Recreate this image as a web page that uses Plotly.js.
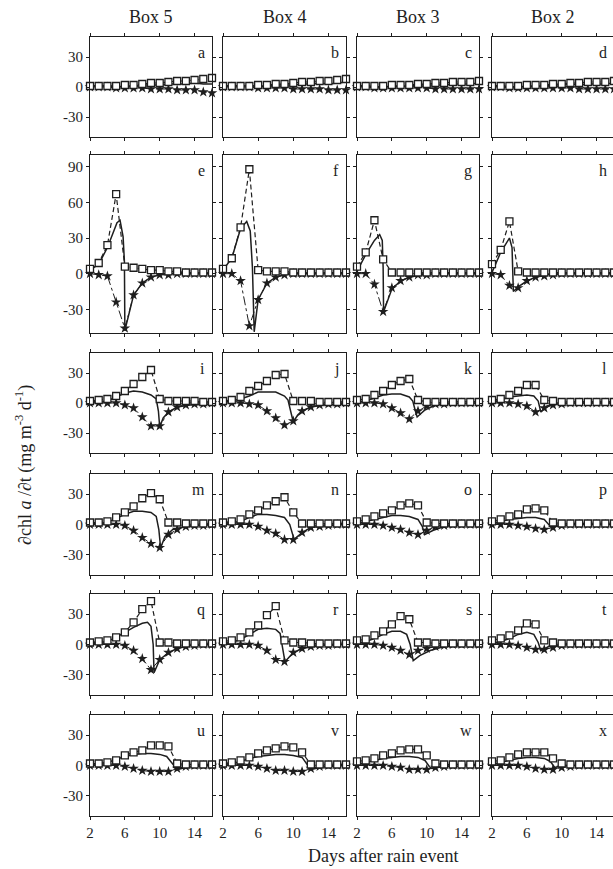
<!DOCTYPE html>
<html><head><meta charset="utf-8">
<script src="https://cdn.plot.ly/plotly-3.0.1.min.js"></script>
<style>html,body{margin:0;padding:0;overflow:hidden;background:#fff}#chart{width:616px;height:869px}</style>
</head><body><div id="chart"></div>
<script>
// ---------------- data ----------------
const days = [2,3,4,5,6,7,8,9,10,11,12,13,14,15,16];
const columnTitles = ['Box 5','Box 4','Box 3','Box 2'];
const panelLetters = ['a','b','c','d','e','f','g','h','i','j','k','l','m','n','o','p','q','r','s','t','u','v','w','x'];
const xTickVals = [2,6,10,14];
const yTicksSmall = [-30,0,30];
const yTicksLarge = [-30,0,30,60,90];

// squares (dashed), stars (dash-dot), solid line (x, y)
const sqA = [1,1,1,1,2,2,3,4,4,5,6,6,7,8,9];
const stA = [0,0,0,-1,-1,-1,-1,-2,-2,-2,-3,-3,-3,-5,-6];
const lxA = days, lyA = [1,1,1,0,1,1,2,2,2,3,3,3,4,3,3];
const sqB = [1,1,1,1,2,2,3,3,4,5,5,6,6,7,8];
const stB = [0,0,0,0,-1,-1,-1,-1,-2,-2,-2,-2,-3,-3,-3];
const lxB = days, lyB = [1,1,1,1,1,1,2,2,2,3,3,4,3,4,5];
const sqC = [1,1,1,1,2,2,2,3,3,4,4,5,5,5,6];
const stC = [0,0,-1,-1,-1,-1,-1,-1,-1,-2,-2,-2,-2,-2,-2];
const lxC = days, lyC = [1,1,0,0,1,1,1,2,2,2,2,3,3,3,4];
const sqD = [1,1,1,1,2,2,2,3,3,4,4,5,5,5,6];
const stD = [0,0,-1,-1,-1,-1,-1,-1,-1,-1,-2,-2,-2,-2,-2];
const lxD = days, lyD = [1,1,0,0,1,1,1,2,2,3,2,3,3,3,4];

const sqE = [4,9,24,67,6,5,4,3,3,2,2,1,1,1,1];
const stE = [0,-1,-2,-24,-46,-18,-8,-3,-1,-1,0,0,0,0,0];
const lxE = [2,3,4,4.6,5.1,5.45,5.8,5.95,6.0,7,8,9,10,11,16];
const lyE = [3,8,22,33,43,45,31,10,-48,-18,-8,-3,-1,0,0];
const sqF = [4,13,39,88,3,2,2,2,1,1,1,1,1,1,1];
const stF = [0,0,-6,-44,-22,-8,-3,-1,0,0,0,0,0,0,0];
const lxF = [2,3,4,4.7,5.1,5.35,5.55,6,7,8,9,10,16];
const lyF = [3,13,38,44,36,5,-49,-22,-8,-3,-1,0,0];
const sqG = [6,18,45,12,1,1,1,1,1,1,1,1,1,1,1];
const stG = [0,0,-9,-32,-12,-6,-3,-1,-1,0,0,0,0,0,0];
const lxG = [2,3,4,4.6,4.9,5.0,5.05,6,7,8,9.5,11,16];
const lyG = [2,16,28,33,28,5,-32,-13,-6,-3,-1,0,0];
const sqH = [8,20,44,2,1,1,1,1,1,1,1,1,1,1,1];
const stH = [0,-1,-10,-12,-6,-3,-2,-1,0,0,0,0,0,0,0];
const lxH = [2,3,4,4.3,4.45,5,6,7,8,10,16];
const lyH = [1,18,30,22,-15,-11,-6,-3,-1,0,0];

const sqI = [2,3,4,7,12,19,26,33,4,2,2,2,2,1,1];
const stI = [0,0,0,0,-2,-5,-14,-23,-23,-9,-4,-2,-1,-1,0];
const lxI = [2,3,4,5,6,7,8,9,9.6,9.85,10,10.4,11,12,13.5,16];
const lyI = [1,1,2,6,10,12,11,8,4,-8,-24,-15,-9,-4,-2,-1];
const sqJ = [2,3,6,12,17,22,28,29,2,2,2,1,1,1,1];
const stJ = [0,0,0,-1,-2,-8,-15,-22,-18,-8,-4,-2,-1,-1,0];
const lxJ = [2,3,4,5,6,7,8,9,9.4,9.75,10,10.5,11,12,13.5,16];
const lyJ = [1,2,4,7,11,11,11,7,3,-10,-19,-12,-8,-4,-2,-1];
const sqK = [3,4,8,12,18,22,24,3,1,1,1,1,1,1,1];
const stK = [0,0,0,-1,-5,-10,-16,-8,-3,-1,-1,0,0,0,0];
const lxK = [2,3,4,5,6,7,8,8.4,8.7,8.9,9.8,11,12,16];
const lyK = [1,2,5,8,9,9,6,2,-8,-14,-7,-2,-1,0];
const sqL = [3,4,8,12,18,18,3,2,1,1,1,1,1,1,1];
const stL = [0,0,0,-1,-3,-9,-5,-2,-1,0,0,0,0,0,0];
const lxL = [2,3,4,5,6,6.8,7.3,7.6,8.3,9.5,11,16];
const lyL = [1,3,6,7,8,7,2,-9,-3,-1,0,0];

const sqM = [2,2,3,7,12,18,26,31,25,2,2,1,1,1,1];
const stM = [0,0,0,0,-1,-6,-13,-19,-23,-10,-5,-2,-1,-1,0];
const lxM = [2,3,4,5,6,7,8,9,9.6,9.9,10.1,10.6,11.5,13,16];
const lyM = [1,1,2,6,10,13,13,12,8,-5,-23,-12,-5,-2,0];
const sqN = [2,3,5,10,14,19,23,27,12,1,1,1,1,1,1];
const stN = [0,0,0,0,-2,-6,-9,-15,-15,-8,-3,-2,-1,0,0];
const lxN = [2,3,4,5,6,7,8,9,9.6,10.1,11,12,13,14,16];
const lyN = [1,2,3,7,10,10,9,7,0,-15,-8,-3,-2,-1,0];
const sqO = [3,5,8,11,14,19,21,19,2,1,1,1,1,1,1];
const stO = [0,0,0,-1,-3,-5,-8,-10,-6,-2,-1,0,0,0,0];
const lxO = [2,3,4,5,6,7,8,9,9.5,9.75,10.7,12,13,16];
const lyO = [1,3,5,7,9,9,8,5,-2,-10,-6,-2,-1,0];
const sqP = [3,5,8,10,15,16,14,2,1,1,1,1,1,1,1];
const stP = [0,0,0,-1,-2,-4,-5,-3,-1,0,0,0,0,0,0];
const lxP = [2,3,4,5,6,7,8,8.5,9,10,12,16];
const lyP = [1,3,5,6,7,7,5,0,-2,-1,0,0];

const sqQ = [2,3,4,7,12,22,35,43,2,2,1,1,1,1,1];
const stQ = [0,0,0,0,-1,-6,-14,-25,-15,-8,-4,-2,-1,0,0];
const lxQ = [2,3,4,5,6,7,8,8.6,9.0,9.25,9.35,10,11,12,13.5,16];
const lyQ = [1,2,3,7,12,17,21,22,18,0,-28,-15,-8,-4,-1,0];
const sqR = [3,4,7,12,19,29,38,4,2,2,1,1,1,1,1];
const stR = [0,0,0,0,-1,-6,-15,-17,-8,-4,-2,-1,-1,0,0];
const lxR = [2,3,4,5,6,7,8,8.5,8.85,9.05,10,11,13,16];
const lyR = [1,2,5,10,15,16,15,11,-5,-17,-8,-4,-1,0];
const sqS = [4,5,9,13,20,28,25,2,2,1,1,1,1,1,1];
const stS = [0,0,0,-1,-3,-6,-10,-6,-4,-2,-1,0,0,0,0];
const lxS = [2,3,4,5,6,7,7.7,8.1,8.45,9.2,10.4,12,16];
const lyS = [1,3,6,10,13,13,10,0,-16,-11,-6,-2,0];
const sqT = [4,6,9,14,21,20,4,2,1,1,1,1,1,1,1];
const stT = [0,0,0,-1,-3,-5,-5,-3,-1,0,0,0,0,0,0];
const lxT = [2,3,4,5,6,6.8,7.3,7.6,8.5,10,16];
const lyT = [1,3,6,10,12,10,2,-6,-2,0,0];

const sqU = [2,2,3,5,10,13,15,20,20,19,2,1,1,1,1];
const stU = [0,0,0,0,-1,-3,-5,-6,-6,-6,-3,-1,0,0,0];
const lxU = [2,3,4,5,6,7,8,9,10,10.8,11.5,12,13,14,16];
const lyU = [1,2,3,6,9,11,12,12,11,9,1,-4,-2,-1,0];
const sqV = [2,3,5,8,12,15,17,19,18,13,1,1,1,1,1];
const stV = [0,0,0,0,-1,-3,-5,-5,-6,-6,-3,-1,0,0,0];
const lxV = [2,3,4,5,6,7,8,9,10,11,11.6,12,13,14,16];
const lyV = [1,2,4,7,9,10,11,11,10,8,0,-4,-2,-1,0];
const sqW = [4,5,7,10,12,15,16,16,10,2,1,1,1,1,1];
const stW = [0,0,0,0,-1,-2,-4,-4,-4,-2,-1,0,0,0,0];
const lxW = [2,3,4,5,6,7,8,9,9.8,10.3,10.6,12,16];
const lyW = [1,3,5,7,8,9,9,8,5,-1,-3,-1,0];
const sqX = [4,5,8,11,13,13,13,7,2,1,1,1,1,1,1];
const stX = [0,0,0,0,-1,-3,-4,-4,-2,-1,0,0,0,0,0];
const lxX = [2,3,4,5,6,7,8,8.7,9.2,10,16];
const lyX = [1,3,5,7,8,8,7,4,-2,0,0];

const squareSeries = [sqA,sqB,sqC,sqD,sqE,sqF,sqG,sqH,sqI,sqJ,sqK,sqL,sqM,sqN,sqO,sqP,sqQ,sqR,sqS,sqT,sqU,sqV,sqW,sqX];
const starSeries = [stA,stB,stC,stD,stE,stF,stG,stH,stI,stJ,stK,stL,stM,stN,stO,stP,stQ,stR,stS,stT,stU,stV,stW,stX];
const lineX = [lxA,lxB,lxC,lxD,lxE,lxF,lxG,lxH,lxI,lxJ,lxK,lxL,lxM,lxN,lxO,lxP,lxQ,lxR,lxS,lxT,lxU,lxV,lxW,lxX];
const lineY = [lyA,lyB,lyC,lyD,lyE,lyF,lyG,lyH,lyI,lyJ,lyK,lyL,lyM,lyN,lyO,lyP,lyQ,lyR,lyS,lyT,lyU,lyV,lyW,lyX];

// ---------------- layout geometry (pixels) ----------------
const W = 616, H = 869;
const colsPx = [[90,212],[223,346],[357,479],[492,614]];
const rowsPx = [[37,137],[155,333],[353,453],[474,575],[594,695],[715,816]];
const ink = '#1e1e1e';
const serif = '"Liberation Serif", "Times New Roman", serif';

const traces = [];
const layout = {
  width: W, height: H,
  margin: {l:0, r:0, t:0, b:0},
  paper_bgcolor: '#fff', plot_bgcolor: '#fff',
  showlegend: false,
  font: {family: serif, color: ink, size: 14},
  annotations: []
};

for (let i = 0; i < 24; i++) {
  const r = Math.floor(i / 4), c = i % 4;
  const n = i + 1;
  const xs = n === 1 ? '' : String(n);
  const xa = 'x' + xs, ya = 'y' + xs;
  const big = (r === 1);
  layout['xaxis' + xs] = {
    domain: [colsPx[c][0] / W, colsPx[c][1] / W],
    anchor: ya, range: [2, 16],
    tickmode: 'array', tickvals: xTickVals, ticktext: xTickVals.map(String),
    showticklabels: r === 5,
    ticks: 'outside', ticklen: 3, tickwidth: 1, tickcolor: ink,
    showline: true, linecolor: ink, linewidth: 1, mirror: 'ticks',
    showgrid: false, zeroline: false,
    tickfont: {family: serif, size: 15, color: ink}
  };
  layout['yaxis' + xs] = {
    domain: [1 - rowsPx[r][1] / H, 1 - rowsPx[r][0] / H],
    anchor: xa, range: big ? [-50, 100] : [-50, 50],
    tickmode: 'array', tickvals: big ? yTicksLarge : yTicksSmall,
    ticktext: (big ? yTicksLarge : yTicksSmall).map(String),
    showticklabels: c === 0,
    ticks: 'outside', ticklen: 3, tickwidth: 1, tickcolor: ink,
    showline: true, linecolor: ink, linewidth: 1, mirror: 'ticks',
    showgrid: false, zeroline: false,
    tickfont: {family: serif, size: 15, color: ink}
  };
  traces.push({
    x: days, y: starSeries[i], xaxis: xa, yaxis: ya,
    mode: 'lines+markers', cliponaxis: false,
    line: {color: ink, width: 1, dash: 'dashdot'},
    marker: {symbol: 'star', size: 8, color: ink}
  });
  traces.push({
    x: lineX[i], y: lineY[i], xaxis: xa, yaxis: ya,
    mode: 'lines', cliponaxis: false,
    line: {color: ink, width: 1.5}
  });
  traces.push({
    x: days, y: squareSeries[i], xaxis: xa, yaxis: ya,
    mode: 'lines+markers', cliponaxis: false,
    line: {color: ink, width: 1.2, dash: '5px,3px'},
    marker: {symbol: 'square', size: 7, color: '#fff', line: {color: ink, width: 1.3}}
  });
  layout.annotations.push({
    xref: xa + ' domain', yref: ya + ' domain', x: 1, y: 1,
    xanchor: 'right', yanchor: 'top', xshift: -5, yshift: -5,
    text: panelLetters[i], showarrow: false,
    font: {family: serif, size: 16, color: ink}
  });
}

columnTitles.forEach((t, c) => {
  layout.annotations.push({
    xref: 'paper', yref: 'paper',
    x: (colsPx[c][0] + colsPx[c][1]) / 2 / W, y: 1 - 17 / H,
    xanchor: 'center', yanchor: 'middle',
    text: t, showarrow: false, font: {family: serif, size: 18, color: ink}
  });
});
layout.annotations.push({
  xref: 'paper', yref: 'paper', x: 383 / W, y: 1 - 856 / H,
  xanchor: 'center', yanchor: 'middle',
  text: 'Days after rain event', showarrow: false,
  font: {family: serif, size: 18, color: ink}
});
layout.annotations.push({
  xref: 'paper', yref: 'paper', x: 24 / W, y: 1 - 465 / H,
  xanchor: 'center', yanchor: 'middle', textangle: -90,
  text: '∂chl <i>a</i> /∂t (mg m<sup>-3</sup> d<sup>-1</sup>)', showarrow: false,
  font: {family: serif, size: 18, color: ink}
});

Plotly.newPlot('chart', traces, layout, {displayModeBar: false, staticPlot: true});
</script>
</body></html>
